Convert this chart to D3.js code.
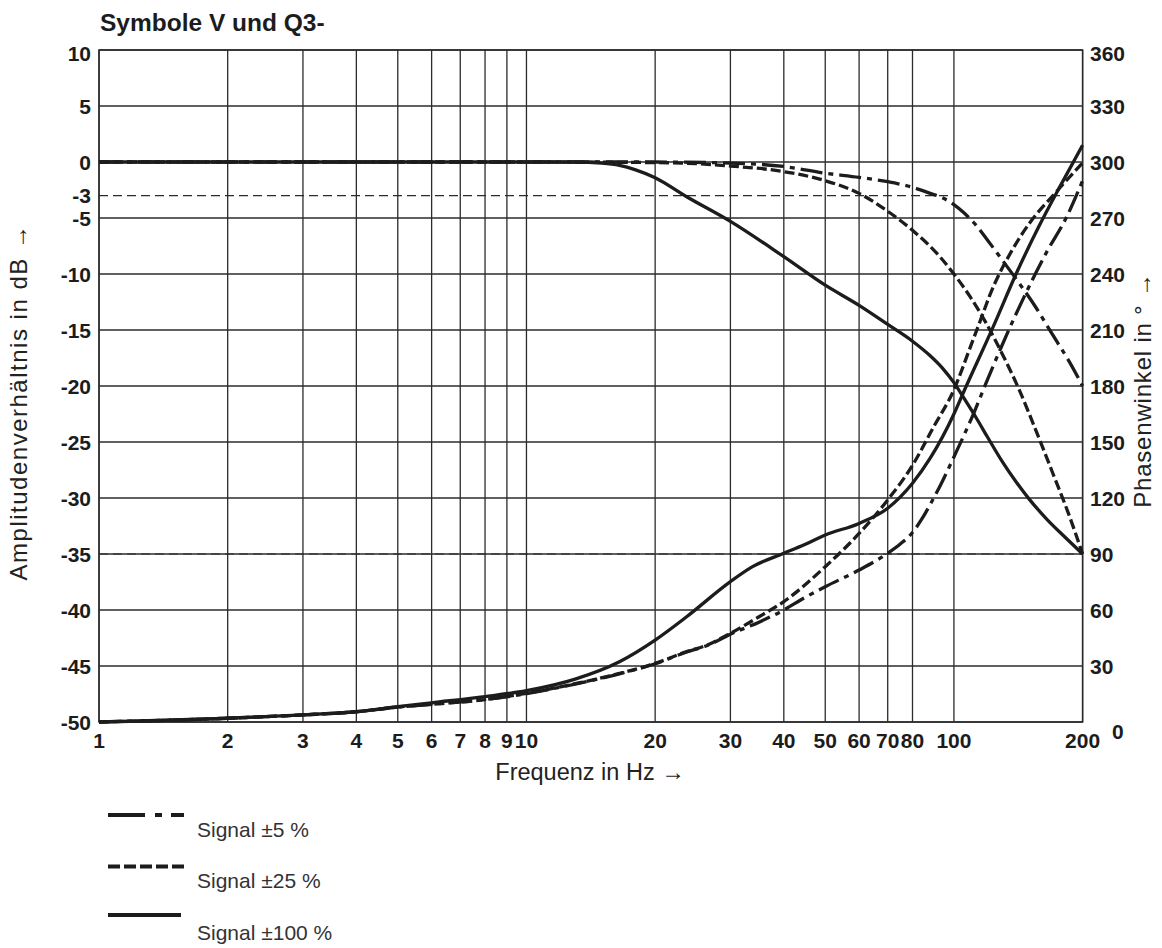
<!DOCTYPE html>
<html>
<head>
<meta charset="utf-8">
<script src="https://cdn.jsdelivr.net/npm/d3@7"></script>
<style>
  html, body { margin: 0; padding: 0; background: #ffffff; }
  svg { display: block; }
</style>
</head>
<body>
<svg id="chart" width="1162" height="948"></svg>
<script>
// ---------------- DATA ----------------
const title = "Symbole V und Q3-";
const xTitle = "Frequenz in Hz \u2192";
const yLeftTitle = "Amplitudenverhältnis in dB \u2192";
const yRightTitle = "Phasenwinkel in ° \u2192";

const freqTicks = [1, 2, 3, 4, 5, 6, 7, 8, 9, 10, 20, 30, 40, 50, 60, 70, 80, 100, 200];
const dbGrid = [10, 5, 0, -5, -10, -15, -20, -25, -30, -35, -40, -45, -50];
const dbTicks = [10, 5, 0, -3, -5, -10, -15, -20, -25, -30, -35, -40, -45, -50];
const dbDashed = [-3, -35];
const degTicks = [360, 330, 300, 270, 240, 210, 180, 150, 120, 90, 60, 30, 0];

const seriesNames = ["Signal \u00b15 %", "Signal \u00b125 %", "Signal \u00b1100 %"];

// Amplitude ratio (dB) vs frequency (Hz)
const ampFreq5   = [1, 20, 30, 40, 50, 60, 70, 80, 88, 94, 100, 106, 113, 120, 130, 142, 155, 170, 186, 200];
const ampVal5    = [0, 0, -0.1, -0.4, -1.0, -1.37, -1.76, -2.26, -2.8, -3.2, -3.8, -4.6, -5.7, -7.0, -8.8, -10.8, -12.9, -15.4, -17.8, -20];

const ampFreq25  = [1, 10, 20, 25, 30, 40, 50, 60, 70, 80, 92.7, 100, 109, 118.6, 130, 142, 156, 172, 185, 200];
const ampVal25   = [0, 0, -0.05, -0.15, -0.36, -0.86, -1.67, -2.8, -4.4, -6.1, -8.45, -10.0, -12.0, -14.3, -17.2, -20.3, -24.1, -28.2, -31.3, -35];

const ampFreq100 = [1, 5, 10, 13, 15, 16.5, 18, 20, 23.7, 30, 40, 50, 60, 70, 80, 88, 94, 100, 106, 113, 120, 130, 140, 150, 165, 182, 200];
const ampVal100  = [0, 0, 0, 0, -0.1, -0.3, -0.7, -1.4, -3.1, -5.3, -8.45, -11, -12.8, -14.5, -16, -17.3, -18.4, -19.7, -21.2, -22.9, -24.6, -26.8, -28.6, -30.1, -31.9, -33.5, -35];

// Phase angle (degrees) vs frequency (Hz)
const phFreq5    = [1, 2, 3, 4, 5, 6, 8, 10, 13, 16.5, 20, 23.7, 26.5, 30, 35, 40, 44.5, 50, 60, 70, 75, 80, 84, 88, 94, 100, 112, 118.6, 142, 165, 183, 200];
const phVal5     = [0, 2, 3.8, 5.5, 8.0, 9.5, 12, 15.2, 20.3, 25.8, 31.2, 37.5, 41, 47, 53.5, 60, 66.3, 72.5, 81.4, 90.4, 95.5, 101.5, 108.5, 116.5, 129, 142, 167, 181, 222, 252, 270, 290];

const phFreq25   = [1, 2, 3, 4, 5, 6, 8, 10, 13, 16.5, 20, 23.7, 26.5, 30, 35, 40, 50, 60, 70, 80, 89.6, 100, 108.9, 117, 121, 137, 150, 172, 200];
const phVal25    = [0, 2, 3.8, 5.5, 8.0, 9.5, 12, 15.4, 20.5, 26, 31.4, 37.7, 41.3, 47.5, 56.4, 64.5, 83.2, 101, 119, 137.5, 158, 178, 200, 219, 228, 253, 267, 283, 299.5];

const phFreq100  = [1, 2, 3, 4, 5, 6, 8, 10, 13, 16.5, 20, 23.7, 30, 33.8, 40, 44.5, 50, 60, 70, 80, 88, 100, 105, 123.6, 140, 158, 177, 200];
const phVal100   = [0, 2, 3.8, 5.5, 8.2, 10.3, 13.6, 16.8, 23, 32.3, 43.9, 56.4, 75.2, 83.2, 90.4, 94.8, 100.2, 106.4, 114.5, 127.9, 141.3, 165, 176, 211.8, 240.4, 265.4, 286.8, 309];

// ---------------- LAYOUT ----------------
const W = 1162, H = 948;
const plot = { left: 99, right: 1082.6, top: 50, bottom: 722 };
const ink = "#1c1c1c";
const gridInk = "#2b2b2b";
const styles = [
  { dash: "22,6,5,6", legendDash: "37,10,7,9" },
  { dash: "10,4", legendDash: "12,4" },
  { dash: null, legendDash: null }
];

const svg = d3.select("#chart");
svg.append("rect").attr("width", W).attr("height", H).attr("fill", "#fff");

const x = d3.scaleLog().domain([1, 200]).range([plot.left, plot.right]);
const yL = d3.scaleLinear().domain([-50, 10]).range([plot.bottom, plot.top]);
const yR = d3.scaleLinear().domain([0, 360]).range([plot.bottom, plot.top]);

const g = svg.append("g");

// grid: vertical
g.append("g").selectAll("line").data(freqTicks).join("line")
  .attr("x1", d => x(d)).attr("x2", d => x(d))
  .attr("y1", plot.top).attr("y2", plot.bottom)
  .attr("stroke", gridInk).attr("stroke-width", 1.3);

// grid: horizontal
g.append("g").selectAll("line").data(dbGrid).join("line")
  .attr("x1", plot.left).attr("x2", plot.right)
  .attr("y1", d => yL(d)).attr("y2", d => yL(d))
  .attr("stroke", gridInk).attr("stroke-width", 1.3);

// dashed reference lines
g.append("g").selectAll("line").data(dbDashed).join("line")
  .attr("x1", plot.left).attr("x2", plot.right)
  .attr("y1", d => yL(d)).attr("y2", d => yL(d))
  .attr("stroke", gridInk).attr("stroke-width", 1.2)
  .attr("stroke-dasharray", "9,5");

// frame
g.append("rect")
  .attr("x", plot.left).attr("y", plot.top)
  .attr("width", plot.right - plot.left).attr("height", plot.bottom - plot.top)
  .attr("fill", "none").attr("stroke", gridInk).attr("stroke-width", 1.5);

// tick labels
const tickFont = "'Liberation Sans', Arial, Helvetica, sans-serif";
g.append("g").selectAll("text").data(freqTicks).join("text")
  .attr("x", d => x(d)).attr("y", 748)
  .attr("text-anchor", "middle")
  .attr("font-family", tickFont).attr("font-weight", "bold").attr("font-size", 21)
  .attr("fill", ink)
  .text(d => d);

g.append("g").selectAll("text").data(dbTicks).join("text")
  .attr("x", 91).attr("y", d => yL(d) + (d === 10 ? 3 : 0))
  .attr("dy", "0.36em")
  .attr("text-anchor", "end")
  .attr("font-family", tickFont).attr("font-weight", "bold").attr("font-size", 21)
  .attr("fill", ink)
  .text(d => d);

g.append("g").selectAll("text").data(degTicks).join("text")
  .attr("x", d => d === 0 ? 1112 : 1090)
  .attr("y", d => yR(d) + (d === 0 ? 9 : (d === 360 ? 3 : 0)))
  .attr("dy", "0.36em")
  .attr("text-anchor", "start")
  .attr("font-family", tickFont).attr("font-weight", "bold").attr("font-size", 21)
  .attr("fill", ink)
  .text(d => d);

// titles
svg.append("text").attr("x", 100).attr("y", 31)
  .attr("font-family", tickFont).attr("font-weight", "bold").attr("font-size", 24.5)
  .attr("fill", ink).text(title);

const labelFont = "'Liberation Sans', Arial, Helvetica, sans-serif";
svg.append("text").attr("x", 590).attr("y", 780)
  .attr("text-anchor", "middle")
  .attr("font-family", labelFont).attr("font-size", 23.5).attr("fill", "#222")
  .text(xTitle);

svg.append("text")
  .attr("transform", `translate(27, 402) rotate(-90)`)
  .attr("text-anchor", "middle")
  .attr("font-family", labelFont).attr("font-size", 24).attr("fill", "#222")
  .attr("letter-spacing", 1.5)
  .text(yLeftTitle);

svg.append("text")
  .attr("transform", `translate(1151, 390) rotate(-90)`)
  .attr("text-anchor", "middle")
  .attr("font-family", labelFont).attr("font-size", 24).attr("fill", "#222")
  .attr("letter-spacing", 0.8)
  .text(yRightTitle);

// curves
const zip = (fs, vs) => fs.map((f, i) => ({ f, v: vs[i] }));
const lineL = d3.line().x(d => x(d.f)).y(d => yL(d.v)).curve(d3.curveMonotoneX);
const lineR = d3.line().x(d => x(d.f)).y(d => yR(d.v)).curve(d3.curveMonotoneX);

const ampSeries = [zip(ampFreq5, ampVal5), zip(ampFreq25, ampVal25), zip(ampFreq100, ampVal100)];
const phSeries = [zip(phFreq5, phVal5), zip(phFreq25, phVal25), zip(phFreq100, phVal100)];

const curves = svg.append("g").attr("fill", "none").attr("stroke", ink)
  .attr("stroke-width", 3.3).attr("stroke-linejoin", "round");

ampSeries.forEach((s, i) => {
  curves.append("path").attr("d", lineL(s))
    .attr("stroke-dasharray", styles[i].dash);
});
phSeries.forEach((s, i) => {
  curves.append("path").attr("d", lineR(s))
    .attr("stroke-dasharray", styles[i].dash);
});

// legend
const legend = svg.append("g");
const legendY = [815, 866.5, 915];
const legendTextY = [837, 888, 940];
seriesNames.forEach((name, i) => {
  legend.append("line")
    .attr("x1", 108).attr("x2", i === 2 ? 181 : 184)
    .attr("y1", legendY[i]).attr("y2", legendY[i])
    .attr("stroke", ink).attr("stroke-width", 4)
    .attr("stroke-dasharray", styles[i].legendDash);
  legend.append("text")
    .attr("x", 197).attr("y", legendTextY[i])
    .attr("font-family", labelFont).attr("font-size", 21).attr("fill", "#333")
    .text(name);
});
</script>
</body>
</html>
